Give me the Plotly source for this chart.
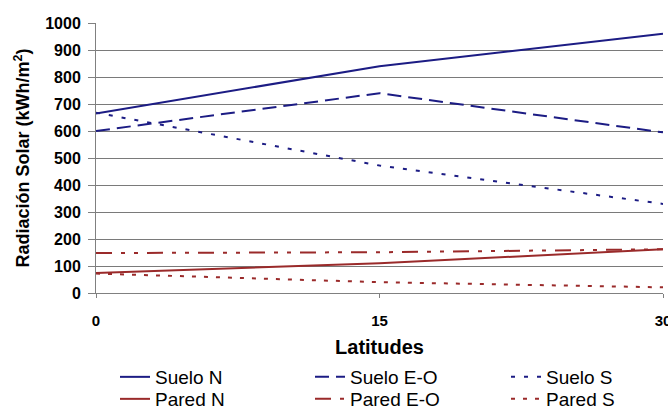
import plotly.graph_objects as go

latitudes = [0, 15, 30]
suelo_n = [665, 840, 960]
suelo_eo = [600, 740, 595]
suelo_s = [668, 472, 330]
pared_n = [74, 110, 162]
pared_eo = [148, 151, 162]
pared_s = [72, 40, 21]

navy = "#1c1c84"
red = "#9a2a2a"

series = [
    ("Suelo N", suelo_n, navy, "solid"),
    ("Suelo E-O", suelo_eo, navy, "14px,7px"),
    ("Suelo S", suelo_s, navy, "4px,9px"),
    ("Pared N", pared_n, red, "solid"),
    ("Pared E-O", pared_eo, red, "16px,9px,4px,9px,4px,9px"),
    ("Pared S", pared_s, red, "4px,8px"),
]

font = "Liberation Sans, Arial, sans-serif"
col_x = [115, 310, 506]
row_y = [377, 399]

fig = go.Figure()
legends = {}
for i, (name, vals, col, dash) in enumerate(series):
    key = "legend" if i == 0 else f"legend{i + 1}"
    fig.add_trace(go.Scatter(x=latitudes, y=vals, name=name, mode="lines",
                             line=dict(color=col, width=2, dash=dash),
                             legend=key, showlegend=True))
    legends[key] = dict(orientation="h", xanchor="left", yanchor="middle",
                        xref="container", yref="container",
                        x=col_x[i % 3] / 668, y=1 - row_y[i // 3] / 410,
                        font=dict(family=font, size=19, color="#000"),
                        bgcolor="rgba(0,0,0,0)", itemwidth=30, visible=True)

fig.update_layout(
    width=668, height=410, showlegend=True,
    margin=dict(l=96, r=5, t=23, b=117, autoexpand=False),
    plot_bgcolor="white", paper_bgcolor="white",
    font=dict(family=font, color="#000"),
    xaxis=dict(range=[0, 30], tickvals=latitudes, ticktext=[str(v) for v in latitudes],
               showgrid=False, zeroline=False, showline=True, linecolor="#808080",
               linewidth=1, ticks="outside", ticklen=4, tickcolor="#808080",
               automargin=False, ticklabeloverflow="allow", ticklabelstandoff=10,
               tickfont=dict(family=font, size=15, color="#000", weight="bold"),
               title=dict(text="Latitudes", standoff=18,
                          font=dict(family=font, size=20, color="#000", weight="bold"))),
    yaxis=dict(range=[0, 1000], tickvals=list(range(0, 1001, 100)),
               showgrid=True, gridcolor="#7a7a7a", gridwidth=1, zeroline=False,
               showline=True, linecolor="#808080", linewidth=1,
               ticks="outside", ticklen=7, tickcolor="#808080",
               automargin=False, ticklabelstandoff=4,
               tickfont=dict(family=font, size=16, color="#000", weight="bold"),
               title=dict(text="Radiación Solar (kWh/m<sup>2</sup>)", standoff=10,
                          font=dict(family=font, size=18, color="#000", weight="bold"))),
    **legends,
)

fig.write_html("out.html", config={"displayModeBar": False},
               post_script="document.body.style.margin='0px';")
